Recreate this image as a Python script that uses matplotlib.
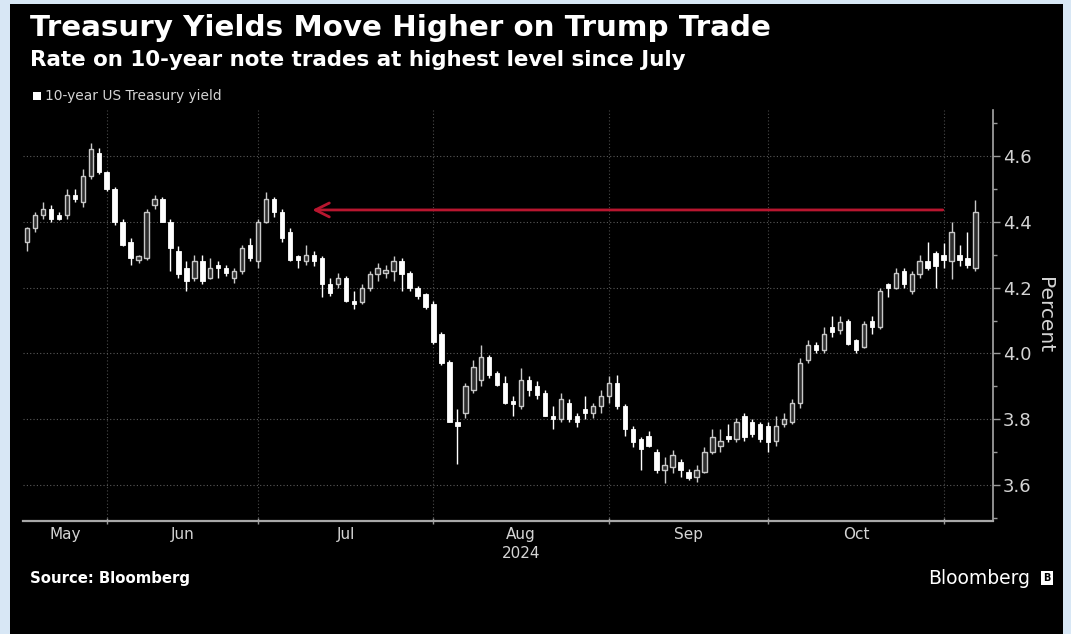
import numpy as np
import pandas as pd
import matplotlib
matplotlib.use("Agg")
import matplotlib.pyplot as plt
from matplotlib.patches import Rectangle
from matplotlib.ticker import FixedLocator, MultipleLocator, NullFormatter, FixedFormatter

plt.rcParams["font.family"] = ["DejaVu Sans"]

# Daily 10-year yield candles, trading days 16 May - 6 Nov 2024
HOLIDAYS = ["2024-05-27", "2024-06-19", "2024-07-04", "2024-09-02", "2024-10-14"]
dates = pd.bdate_range("2024-05-16", "2024-11-06")
dates = dates[~dates.isin(pd.to_datetime(HOLIDAYS))]

opens = [4.34, 4.38, 4.42, 4.44, 4.42, 4.42, 4.48, 4.46, 4.54, 4.61, 4.55,
         4.50, 4.40, 4.34, 4.285, 4.29, 4.45, 4.47, 4.40, 4.31, 4.26, 4.23, 4.28, 4.23, 4.27, 4.26, 4.23, 4.25, 4.33, 4.28,
         4.40, 4.47, 4.43, 4.37, 4.295, 4.28, 4.30, 4.29, 4.21, 4.21, 4.23, 4.16, 4.155, 4.20, 4.24, 4.245, 4.25, 4.28, 4.245, 4.20, 4.18, 4.15,
         4.06, 3.975, 3.79, 3.82, 3.89, 3.92, 3.99, 3.94, 3.91, 3.855, 3.84, 3.92, 3.90, 3.88, 3.81, 3.80, 3.85, 3.81, 3.83, 3.82, 3.84, 3.87,
         3.91, 3.84, 3.77, 3.74, 3.75, 3.70, 3.645, 3.655, 3.67, 3.64, 3.625, 3.64, 3.70, 3.72, 3.75, 3.74, 3.81, 3.79, 3.785, 3.78,
         3.735, 3.785, 3.79, 3.85, 3.98, 4.025, 4.01, 4.08, 4.07, 4.10, 4.04, 4.02, 4.10, 4.08, 4.21, 4.20, 4.25, 4.19, 4.24, 4.28, 4.305, 4.30,
         4.28, 4.30, 4.29, 4.26]
highs = [4.385, 4.43, 4.46, 4.45, 4.43, 4.50, 4.50, 4.56, 4.64, 4.625, 4.555,
         4.505, 4.41, 4.35, 4.30, 4.44, 4.48, 4.475, 4.41, 4.325, 4.28, 4.30, 4.30, 4.29, 4.28, 4.27, 4.26, 4.33, 4.35, 4.41,
         4.49, 4.475, 4.44, 4.38, 4.30, 4.33, 4.31, 4.295, 4.23, 4.245, 4.235, 4.19, 4.21, 4.25, 4.275, 4.27, 4.295, 4.29, 4.25, 4.205, 4.185, 4.16,
         4.065, 3.98, 3.83, 3.91, 3.98, 4.025, 3.995, 3.945, 3.93, 3.87, 3.955, 3.93, 3.915, 3.89, 3.84, 3.88, 3.86, 3.82, 3.87, 3.85, 3.89, 3.93,
         3.935, 3.845, 3.78, 3.745, 3.765, 3.71, 3.685, 3.705, 3.68, 3.65, 3.66, 3.715, 3.77, 3.77, 3.785, 3.805, 3.82, 3.80, 3.79, 3.79,
         3.81, 3.82, 3.86, 3.985, 4.04, 4.035, 4.08, 4.115, 4.115, 4.105, 4.045, 4.10, 4.115, 4.20, 4.215, 4.26, 4.26, 4.25, 4.30, 4.34, 4.31, 4.335,
         4.40, 4.33, 4.37, 4.465]
lows = [4.31, 4.37, 4.41, 4.40, 4.405, 4.41, 4.46, 4.445, 4.53, 4.545, 4.495,
        4.39, 4.325, 4.27, 4.275, 4.285, 4.44, 4.40, 4.25, 4.23, 4.19, 4.22, 4.21, 4.225, 4.23, 4.235, 4.215, 4.24, 4.28, 4.26,
        4.395, 4.415, 4.34, 4.28, 4.26, 4.27, 4.265, 4.17, 4.175, 4.20, 4.155, 4.135, 4.15, 4.19, 4.22, 4.23, 4.22, 4.19, 4.19, 4.165, 4.135, 4.03,
        3.965, 3.79, 3.665, 3.805, 3.88, 3.90, 3.925, 3.90, 3.845, 3.81, 3.83, 3.87, 3.86, 3.81, 3.77, 3.79, 3.79, 3.775, 3.80, 3.805, 3.82, 3.85,
        3.83, 3.75, 3.715, 3.645, 3.715, 3.635, 3.605, 3.635, 3.625, 3.615, 3.61, 3.635, 3.695, 3.70, 3.73, 3.73, 3.735, 3.745, 3.73, 3.70,
        3.72, 3.775, 3.785, 3.835, 3.97, 4.00, 4.00, 4.05, 4.06, 4.025, 4.00, 4.015, 4.06, 4.075, 4.17, 4.195, 4.20, 4.18, 4.23, 4.255, 4.20, 4.26,
        4.225, 4.265, 4.26, 4.25]
closes = [4.38, 4.42, 4.44, 4.41, 4.41, 4.48, 4.47, 4.54, 4.62, 4.55, 4.50,
          4.40, 4.33, 4.29, 4.295, 4.43, 4.47, 4.40, 4.32, 4.24, 4.22, 4.28, 4.22, 4.26, 4.26, 4.245, 4.25, 4.32, 4.29, 4.40,
          4.47, 4.43, 4.35, 4.285, 4.285, 4.30, 4.28, 4.21, 4.185, 4.23, 4.16, 4.15, 4.20, 4.24, 4.26, 4.255, 4.28, 4.24, 4.20, 4.175, 4.14, 4.035,
          3.97, 3.79, 3.78, 3.90, 3.96, 3.99, 3.935, 3.905, 3.85, 3.845, 3.92, 3.89, 3.875, 3.81, 3.80, 3.86, 3.80, 3.79, 3.82, 3.84, 3.87, 3.91,
          3.84, 3.77, 3.73, 3.71, 3.72, 3.645, 3.66, 3.69, 3.645, 3.62, 3.645, 3.70, 3.745, 3.735, 3.74, 3.79, 3.745, 3.755, 3.74, 3.73,
          3.78, 3.80, 3.85, 3.97, 4.025, 4.01, 4.06, 4.065, 4.095, 4.03, 4.01, 4.09, 4.08, 4.19, 4.20, 4.245, 4.21, 4.24, 4.28, 4.26, 4.265, 4.285,
          4.37, 4.285, 4.27, 4.43]

MONTHS = ["May", "Jun", "Jul", "Aug", "Sep", "Oct"]
YEAR_LABEL = "2024"
SINCE_JULY = 4.436          # level of the highest print since July
ARROW_FROM = "2024-10-30"
ARROW_TO = "2024-07-10"

o, h, l, c = map(np.array, (opens, highs, lows, closes))
x = np.arange(len(dates))
up = c >= o

BG = "black"
FRAME = "#d8e7f5"
TXT = "#d4d4d4"
HOLLOW = "#c8c8c8"

fig = plt.figure(figsize=(10.71, 6.34), dpi=100, facecolor=FRAME)
fig.patches.append(Rectangle((10 / 1071, 0), 1053 / 1071, 630 / 634,
                             transform=fig.transFigure, facecolor=BG,
                             edgecolor="none", zorder=-10))
ax = fig.add_axes([23 / 1071, 113 / 634, 970 / 1071, 411 / 634])
ax.set_facecolor(BG)

# wicks
ax.vlines(x[up], l[up], h[up], color=HOLLOW, lw=1.0, zorder=3)
ax.vlines(x[~up], l[~up], h[~up], color="white", lw=1.0, zorder=3)
# bodies: rising days hollow, falling days filled
body_lo = np.minimum(o, c)
body_h = np.maximum(np.abs(c - o), 0.006)
ax.bar(x[up], body_h[up], bottom=body_lo[up], width=0.55,
       facecolor="#2e2e2e", edgecolor=HOLLOW, linewidth=1.0, zorder=4)
ax.bar(x[~up], body_h[~up], bottom=body_lo[~up], width=0.55,
       facecolor="white", edgecolor="white", linewidth=0.6, zorder=4)

# month boundaries sit on the last trading day of each month
month_id = dates.month.values
last_idx = [i for i in range(len(x) - 1) if month_id[i] != month_id[i + 1]]
edges = [-0.5] + last_idx
centers = [(a + b) / 2 for a, b in zip(edges[:-1], edges[1:])]

ax.set_xlim(-0.5, 121.2)
ax.set_ylim(3.4906, 4.7398)

ax.xaxis.set_major_locator(FixedLocator(last_idx))
ax.xaxis.set_major_formatter(NullFormatter())
ax.xaxis.set_minor_locator(FixedLocator(centers))
ax.xaxis.set_minor_formatter(FixedFormatter(MONTHS))
ax.tick_params(axis="x", which="major", length=4, direction="inout",
               color="#9a9a9a", width=1)
ax.tick_params(axis="x", which="minor", length=0, pad=4,
               labelsize=11, labelcolor=TXT)

ax.yaxis.tick_right()
ax.yaxis.set_label_position("right")
ax.yaxis.set_major_locator(MultipleLocator(0.2))
ax.yaxis.set_minor_locator(MultipleLocator(0.1))
ax.yaxis.set_major_formatter(plt.FuncFormatter(lambda v, p: f"{v:.1f}"))
ax.tick_params(axis="y", which="major", length=5, width=1, color="#9a9a9a",
               labelsize=13, labelcolor=TXT, pad=2)
ax.tick_params(axis="y", which="minor", length=3, width=1, color="#9a9a9a")
ax.set_ylabel("Percent", rotation=-90, labelpad=16, fontsize=14.5, color=TXT)

for side in ("top", "left"):
    ax.spines[side].set_visible(False)
ax.spines["bottom"].set_color("#a8a8a8")
ax.spines["bottom"].set_linewidth(1.6)
ax.spines["right"].set_color("#a8a8a8")
ax.spines["right"].set_linewidth(1.2)

ax.grid(axis="y", which="major", color="#5a5a5a", lw=0.8, ls=(0, (1, 2)))
for e in last_idx:
    ax.axvline(e, color="#4a4a4a", lw=0.8, ls=(0, (1, 2)), zorder=1)

ax.text((edges[3] + edges[4]) / 2, -0.06, YEAR_LABEL, transform=ax.get_xaxis_transform(),
        ha="center", va="top", fontsize=11, color=TXT)

# arrow back to the July high
xa = dates.get_loc(pd.Timestamp(ARROW_FROM)) + 0.9
xb = dates.get_loc(pd.Timestamp(ARROW_TO)) - 0.2
ax.annotate("", xy=(xb, SINCE_JULY), xytext=(xa, SINCE_JULY),
            arrowprops=dict(arrowstyle="->", color="#b8162f", lw=2.0,
                            mutation_scale=25, shrinkA=0, shrinkB=0), zorder=5)

fig.text(30 / 1071, 1 - 28 / 634, "Treasury Yields Move Higher on Trump Trade",
         fontsize=21.2, fontweight="bold", color="white", va="center")
fig.text(30 / 1071, 1 - 60 / 634, "Rate on 10-year note trades at highest level since July",
         fontsize=15.4, fontweight="bold", color="white", va="center")
fig.patches.append(Rectangle((33 / 1071, 1 - 100 / 634), 8 / 1071, 8 / 634,
                             transform=fig.transFigure, facecolor="white",
                             edgecolor="none", zorder=2))
fig.text(45 / 1071, 1 - 96 / 634, "10-year US Treasury yield",
         fontsize=9.9, color=TXT, va="center")
fig.text(30 / 1071, 1 - 578 / 634, "Source: Bloomberg",
         fontsize=10.7, fontweight="bold", color="white", va="center")
fig.text(1030 / 1071, 1 - 578 / 634, "Bloomberg",
         fontsize=13.5, color="white", va="center", ha="right")
fig.text(1047 / 1071, 1 - 578 / 634, "B", fontsize=7, fontweight="bold",
         color="black", va="center", ha="center",
         bbox=dict(boxstyle="square,pad=0.25", facecolor="white", edgecolor="none"))

fig.savefig("out.png", dpi=100, facecolor=FRAME)
